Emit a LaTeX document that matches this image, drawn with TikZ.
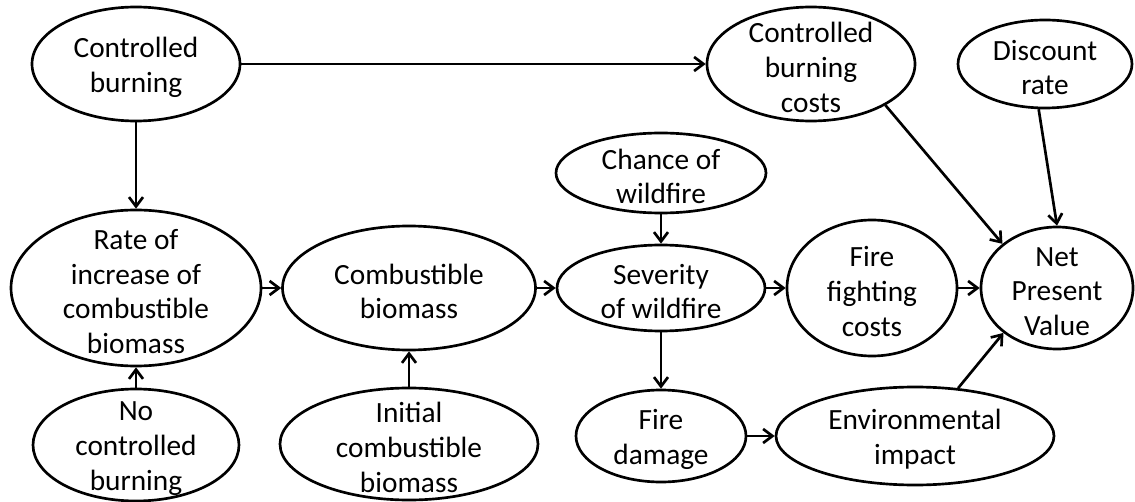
\documentclass[tikz,border=0pt]{standalone}
\usepackage{fontspec}
\setmainfont{Carlito}
\usetikzlibrary{shapes.geometric,arrows.meta}

\begin{document}
\begin{tikzpicture}[x=0.75pt,y=0.75pt,yscale=-1,xscale=1,
        var/.style={ellipse, draw, line width=2pt, inner sep=0pt},
        txt/.style={align=center, inner sep=0pt, yshift=-2.6pt, font=\fontsize{22pt}{26pt}\selectfont},
        link/.style={line width=2pt, -{Straight Barb[length=7pt,width=10.5pt]}}]
        \useasboundingbox (0,0) rectangle (1135,502);

        % Top row
        \node [var, minimum width=156pt, minimum height=85.5pt, label={[txt]center:{Controlled\\burning}}] (cb) at (136,64) {};
        \node [var, minimum width=156pt, minimum height=85.5pt, label={[txt]center:{Controlled\\burning\\costs}}] (cbc) at (811,64) {};
        \node [var, minimum width=130.5pt, minimum height=66pt, label={[txt]center:{Discount\\rate}}] (dr) at (1045,64) {};
        \node [var, minimum width=157.5pt, minimum height=60pt, label={[txt]center:{Chance of\\wildfire}}] (cw) at (661,173) {};

        % Middle row
        \node [var, minimum width=187.5pt, minimum height=117pt, label={[txt]center:{Rate of\\increase of\\combustible\\biomass}}] (rate) at (136,288) {};
        \node [var, minimum width=189.75pt, minimum height=93pt, label={[txt]center:{Combustible\\biomass}}] (cbio) at (409,288) {};
        \node [var, minimum width=156pt, minimum height=64.5pt, label={[txt]center:{Severity\\of wildfire}}] (sev) at (661,288) {};
        \node [var, minimum width=127.5pt, minimum height=102pt, label={[txt]center:{Fire\\fighting\\costs}}] (ffc) at (872,288) {};
        \node [var, minimum width=114pt, minimum height=91.5pt, label={[txt]center:{Net\\Present\\Value}}] (npv) at (1057,288) {};

        % Bottom row
        \node [var, minimum width=154.5pt, minimum height=84pt, label={[txt]center:{No\\controlled\\burning}}] (nocb) at (136,445) {};
        \node [var, minimum width=193.5pt, minimum height=84pt, label={[txt]center:{Initial\\combustible\\biomass}}] (icb) at (409,444) {};
        \node [var, minimum width=127.5pt, minimum height=69pt, label={[txt]center:{Fire\\damage}}] (fd) at (661,436) {};
        \node [var, minimum width=208.5pt, minimum height=73.5pt, label={[txt]center:{Environmental\\impact}}] (ei) at (915,436) {};

        % Links
        \draw [link] (cb) -- (cbc);
        \draw [link] (cb) -- (rate);
        \draw [link] (nocb) -- (rate);
        \draw [link] (rate) -- (cbio);
        \draw [link] (icb) -- (cbio);
        \draw [link] (cbio) -- (sev);
        \draw [link] (cw) -- (sev);
        \draw [link] (sev) -- (ffc);
        \draw [link] (sev) -- (fd);
        \draw [link] (ffc) -- (npv);
        \draw [link] (fd) -- (ei);
        \draw [link] (ei.48) -- (npv.220);
        \draw [link] (cbc.-29) -- (npv.141);
        \draw [link] (dr.-98) -- (npv.north);

\end{tikzpicture}
\end{document}
